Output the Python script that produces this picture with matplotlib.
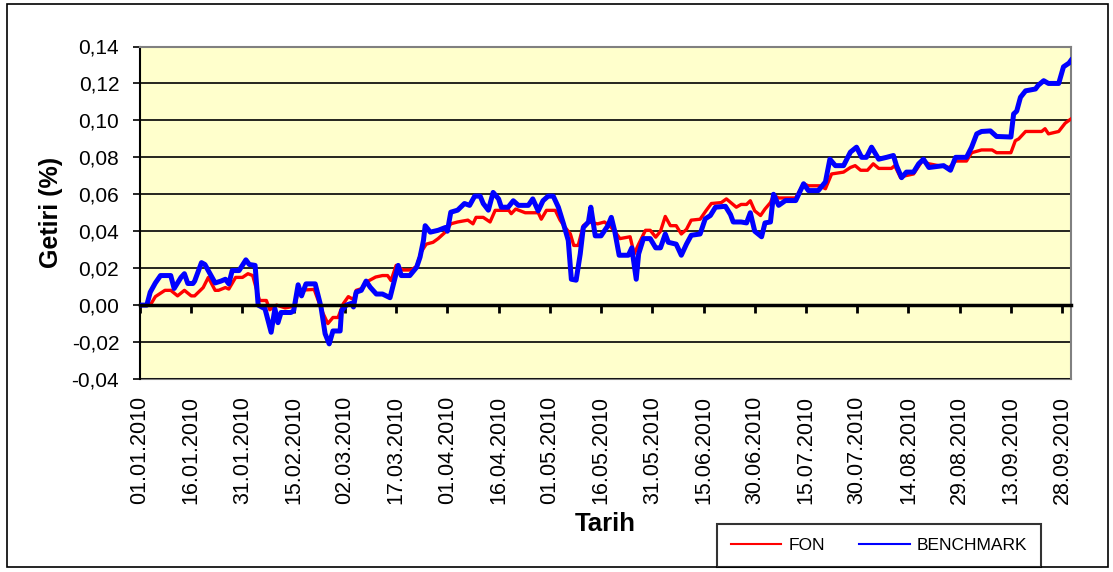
import numpy as np
import matplotlib
matplotlib.use("Agg")
import matplotlib.pyplot as plt
import matplotlib.dates as mdates
import matplotlib.ticker as mticker
from matplotlib.patches import Rectangle

plt.rcParams["font.family"] = ["Liberation Sans", "DejaVu Sans"]

# days since 01.01.2010 and cumulative return
fon_days = [0, 3, 4.5, 7.3, 9, 11, 13, 15, 16, 18.5, 20, 22, 23, 25, 26, 28, 30, 31.6, 33,
            35, 37, 38, 40, 42.5, 45.4, 46.3, 51, 53.6, 55, 56.5, 58, 59.5, 61, 62.5, 63.3,
            65, 66.8, 69, 71, 72.5, 73.5, 75, 77, 79.4, 81, 82.3, 83.8, 85.8, 87.3, 89.4,
            91, 93, 96, 97.5, 98.4, 100.5, 102.5, 104, 108, 108.7, 110, 112.8, 116.6, 117.5,
            119, 121.6, 123, 124.5, 126, 127, 128.3, 129.8, 131.3, 134, 136, 138, 139, 140.5,
            143.5, 144.7, 146, 148, 149.4, 151, 152.4, 153.8, 155.3, 157, 158.5, 160, 161.4,
            164, 165.8, 167.3, 170.2, 171.7, 173, 174.6, 176, 177.6, 178.7, 180, 181.7, 183,
            184.6, 185.5, 187, 192, 194.3, 195.7, 199, 200.7, 202.5, 206, 208, 209.4, 211,
            213, 214.7, 216.3, 220, 221, 222.7, 224, 226.5, 229, 231, 233.8, 237, 238.8, 242,
            243.5, 246.4, 249.5, 250.8, 255, 256.3, 257.3, 259.3, 264, 265, 266, 269, 270.9,
            272.6]
fon_vals = [0, 0, 0.0046, 0.008, 0.008, 0.005, 0.008, 0.005, 0.005, 0.0095, 0.015, 0.008,
            0.008, 0.0095, 0.0087, 0.015, 0.015, 0.017, 0.016, 0.0025, 0.0025, -0.0025, 0.0,
            -0.0015, -0.0005, 0.008, 0.0085, -0.0045, -0.010, -0.0067, -0.0067, 0.0007,
            0.0046, 0.003, 0.008, 0.009, 0.013, 0.0152, 0.016, 0.016, 0.0133, 0.0215, 0.019,
            0.019, 0.021, 0.0287, 0.033, 0.034, 0.036, 0.0395, 0.044, 0.045, 0.046, 0.044,
            0.0475, 0.0475, 0.045, 0.0513, 0.0513, 0.0495, 0.052, 0.050, 0.050, 0.0465,
            0.0513, 0.0513, 0.046, 0.042, 0.0386, 0.0323, 0.0323, 0.043, 0.045, 0.044, 0.045,
            0.042, 0.040, 0.036, 0.037, 0.0277, 0.033, 0.0405, 0.0405, 0.0368, 0.040, 0.048,
            0.043, 0.043, 0.0385, 0.041, 0.046, 0.0465, 0.0513, 0.055, 0.0555, 0.0575, 0.0555,
            0.053, 0.0545, 0.0545, 0.0565, 0.051, 0.0485, 0.052, 0.0555, 0.0594, 0.058, 0.058,
            0.0657, 0.0646, 0.0646, 0.063, 0.071, 0.072, 0.0745, 0.0755, 0.073, 0.073, 0.0765,
            0.074, 0.074, 0.0755, 0.069, 0.070, 0.071, 0.078, 0.0765, 0.0755, 0.0745, 0.078,
            0.078, 0.0825, 0.084, 0.084, 0.0825, 0.0825, 0.089, 0.090, 0.094, 0.094, 0.0955,
            0.0927, 0.094, 0.0985, 0.1008]

bm_days = [0, 2, 3, 4.5, 6, 9, 10, 12, 13, 14, 15.5, 16, 18, 19, 20.5, 22, 23.7, 25, 26, 27,
           29, 31, 32, 33.7, 34.6, 36.6, 38.4, 39.5, 40.4, 41.3, 44.2, 45, 46.3, 47.3, 48.6,
           51.3, 53, 54.2, 55.4, 56.5, 58.6, 59, 60.4, 62, 62.5, 63.3, 64.8, 66.2, 67.4, 69.2,
           71, 73.2, 74.7, 75.6, 76.5, 79, 81, 82, 83, 83.5, 85, 87.3, 89.4, 90, 91, 93, 95,
           96.5, 98, 99.6, 100.5, 102, 103.4, 105, 105.8, 107.8, 109.3, 110.8, 113.7, 115,
           116.6, 118, 119.5, 121, 122.5, 124, 125.4, 126.3, 127.7, 128.9, 129.8, 131.3, 132,
           133.3, 135, 137, 138, 139, 140.3, 143, 144, 145.3, 146, 147.4, 149.4, 151, 152.4,
           153.8, 154.7, 157, 158.5, 160, 161.4, 164, 165.5, 167, 168.5, 171.4, 172.9, 173.7,
           176, 177.6, 178.7, 180, 182, 183, 184.6, 185.5, 187, 189, 192, 194.3, 195.7, 198.6,
           200.7, 202, 203.6, 206, 208, 209.8, 211.3, 212.7, 214.2, 216.3, 218.6, 220.6,
           221.5, 223, 224.4, 226.5, 228, 229.4, 231, 235.3, 237.3, 238.8, 242, 243.5, 245,
           246.4, 249, 250.8, 255, 255.8, 256.7, 257.8, 259.3, 262.2, 263, 264.6, 266, 269,
           270.4, 272, 272.6]
bm_vals = [0, 0, 0.007, 0.012, 0.016, 0.016, 0.009, 0.015, 0.017, 0.0117, 0.0117, 0.013,
           0.023, 0.022, 0.017, 0.012, 0.013, 0.014, 0.0115, 0.0187, 0.0187, 0.0245, 0.022,
           0.0215, 0.0, -0.002, -0.0147, -0.002, -0.0095, -0.004, -0.004, -0.003, 0.011,
           0.005, 0.0115, 0.0115, -0.001, -0.0155, -0.021, -0.014, -0.014, -0.003, 0.0,
           0.001, -0.001, 0.007, 0.008, 0.013, 0.0097, 0.006, 0.006, 0.004, 0.015, 0.0215,
           0.016, 0.016, 0.0205, 0.026, 0.035, 0.043, 0.0395, 0.0405, 0.042, 0.040, 0.0503,
           0.0514, 0.055, 0.054, 0.059, 0.059, 0.055, 0.0514, 0.061, 0.0575, 0.053, 0.053,
           0.0565, 0.054, 0.054, 0.0575, 0.051, 0.0565, 0.059, 0.059, 0.053, 0.044, 0.035,
           0.014, 0.0135, 0.0277, 0.042, 0.045, 0.053, 0.0375, 0.0375, 0.043, 0.0475, 0.040,
           0.027, 0.027, 0.031, 0.014, 0.0277, 0.036, 0.036, 0.031, 0.031, 0.0385, 0.034,
           0.033, 0.027, 0.033, 0.0378, 0.0385, 0.0467, 0.0485, 0.053, 0.0535, 0.049, 0.045,
           0.045, 0.0445, 0.050, 0.040, 0.037, 0.0445, 0.045, 0.060, 0.054, 0.0566, 0.0566,
           0.0657, 0.062, 0.062, 0.0667, 0.079, 0.0755, 0.0755, 0.0828, 0.0855, 0.080, 0.080,
           0.0855, 0.079, 0.080, 0.081, 0.0755, 0.069, 0.072, 0.072, 0.0765, 0.079, 0.0745,
           0.0755, 0.073, 0.080, 0.080, 0.0855, 0.0927, 0.094, 0.0943, 0.0913, 0.091, 0.1035,
           0.105, 0.1125, 0.116, 0.117, 0.119, 0.1215, 0.120, 0.120, 0.129, 0.131, 0.1325]

start = mdates.date2num(np.datetime64("2010-01-01"))
tick_dates = np.arange(np.datetime64("2010-01-01"), np.datetime64("2010-09-29"), 15)

fon_x = start + np.array(fon_days)
bm_x = start + np.array(bm_days)
tick_x = mdates.date2num(tick_dates)

fig = plt.figure(figsize=(11.13, 5.72), dpi=100)
ax = fig.add_axes([140 / 1113, 1 - 379 / 572, (1071 - 140) / 1113, (379 - 46.5) / 572])
ax.set_facecolor("#FFFFCC")

ax.plot(fon_x, fon_vals, color="#FF0000", lw=2.4, zorder=3)
ax.plot(bm_x, bm_vals, color="#0000FF", lw=3.6, zorder=4)

ax.set_xlim(start, start + 272.6)
ax.set_ylim(-0.04, 0.14)
ax.yaxis.set_major_locator(mticker.MultipleLocator(0.02))
ax.yaxis.set_major_formatter(
    mticker.FuncFormatter(lambda v, p: f"{v:.2f}".replace(".", ","))
)
ax.grid(True, axis="y", color="black", lw=1.2, zorder=1)
ax.set_axisbelow(True)

# x axis line sits at zero, labels stay at the bottom
ax.spines["bottom"].set_position(("data", 0))
ax.spines["bottom"].set_linewidth(2.5)
ax.spines["bottom"].set_zorder(5)
ax.set_xticks(tick_x)
ax.tick_params(axis="x", direction="out", length=6, width=2, labelbottom=False)
for s in ["top", "right"]:
    ax.spines[s].set_color("#808080")
    ax.spines[s].set_linewidth(1.5)
ax.spines["left"].set_linewidth(1.5)
ax.tick_params(axis="y", direction="out", length=5, width=1.2, labelsize=15, pad=10)

sec = ax.secondary_xaxis("bottom")
sec.set_xticks(tick_x)
sec.xaxis.set_major_formatter(mdates.DateFormatter("%d.%m.%Y"))
sec.tick_params(length=0, labelsize=15.5, labelrotation=90, pad=12)
sec.spines["bottom"].set_color("#808080")
sec.spines["bottom"].set_linewidth(1.5)
sec.set_xlabel("Tarih", fontsize=18.5, fontweight="bold", labelpad=6)

ax.set_ylabel("Getiri (%)", fontsize=18, fontweight="bold", labelpad=6)

fig.legend(
    handles=ax.lines,
    labels=["FON", "BENCHMARK"],
    loc="center",
    bbox_to_anchor=(879 / 1113, 1 - 545.5 / 572),
    ncol=2,
    fontsize=12.5,
    frameon=True,
    fancybox=False,
    edgecolor="black",
    handlelength=2.9,
    columnspacing=2.0,
    borderpad=0.8,
    handletextpad=0.4,
)
leg = fig.legends[0]
leg.get_frame().set_linewidth(1.5)
for h in leg.legend_handles:
    h.set_linewidth(1.5)

fig.patches.append(Rectangle((7 / 1113, 5 / 572), 1101 / 1113, 563 / 572,
                             transform=fig.transFigure, fill=False,
                             edgecolor="black", lw=1.2))

fig.savefig("out.png", dpi=100)
